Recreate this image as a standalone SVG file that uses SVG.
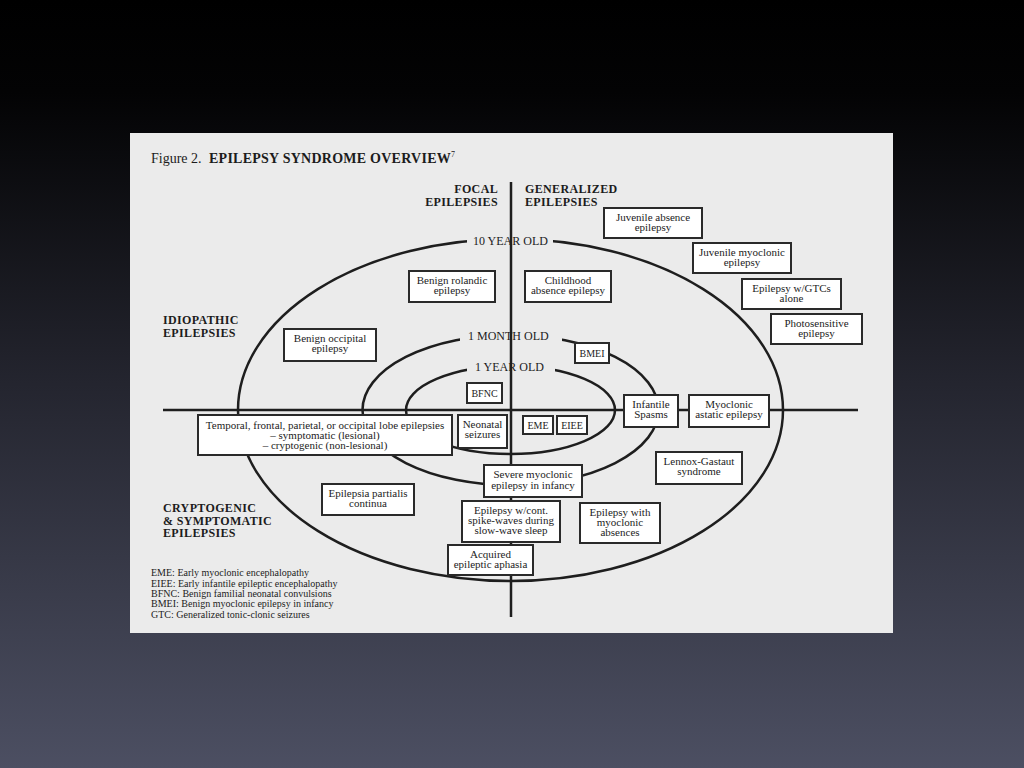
<svg xmlns="http://www.w3.org/2000/svg" width="1024" height="768" viewBox="0 0 1024 768">
<defs>
<linearGradient id="bg" x1="0" y1="0" x2="0" y2="1">
<stop offset="0" stop-color="#000000"/>
<stop offset="0.12" stop-color="#030304"/>
<stop offset="0.5" stop-color="#24252f"/>
<stop offset="1" stop-color="#4c4f62"/>
</linearGradient>
<style>
.t{font-family:"Liberation Serif","Times New Roman",serif;fill:#1c1c1c}
.box{fill:#ffffff;stroke:#2a2a2a;stroke-width:2}
.bt{font-family:"Liberation Serif","Times New Roman",serif;font-size:11px;fill:#1c1c1c;text-anchor:middle}
.sm{font-size:10px}
.hd{font-family:"Liberation Serif","Times New Roman",serif;font-size:12px;font-weight:bold;fill:#1c1c1c;letter-spacing:0.35px}
.ring{fill:none;stroke:#1e1e1e;stroke-width:2.5}
.axis{stroke:#1e1e1e;stroke-width:2.5}
.gap{fill:#ebebeb}
.age{font-family:"Liberation Serif","Times New Roman",serif;font-size:12px;fill:#1c1c1c}
.lg{font-family:"Liberation Serif","Times New Roman",serif;font-size:10px;fill:#1c1c1c}
</style>
</defs>
<rect x="0" y="0" width="1024" height="768" fill="url(#bg)"/>
<rect x="130" y="133" width="763" height="500" fill="#ebebeb"/>

<text class="t" x="151" y="163" font-size="14">Figure 2.</text>
<text class="t" x="209" y="163" font-size="14" font-weight="bold" letter-spacing="0.25">EPILEPSY SYNDROME OVERVIEW<tspan font-size="8" font-weight="normal" dy="-6">7</tspan></text>

<text class="hd" x="498" y="193" text-anchor="end">FOCAL</text>
<text class="hd" x="498" y="206" text-anchor="end">EPILEPSIES</text>
<text class="hd" x="525" y="193">GENERALIZED</text>
<text class="hd" x="525" y="206">EPILEPSIES</text>
<text class="hd" x="163" y="324">IDIOPATHIC</text>
<text class="hd" x="163" y="337">EPILEPSIES</text>
<text class="hd" x="163" y="512">CRYPTOGENIC</text>
<text class="hd" x="163" y="524.5">&amp; SYMPTOMATIC</text>
<text class="hd" x="163" y="537">EPILEPSIES</text>

<g id="connectors">
<ellipse class="ring" cx="510.5" cy="410" rx="272.5" ry="171"/>
<ellipse class="ring" cx="510.5" cy="410" rx="148" ry="75"/>
<ellipse class="ring" cx="510.5" cy="410" rx="104.5" ry="44"/>
<rect class="gap" x="467" y="233" width="86" height="13"/>
<rect class="gap" x="460" y="329" width="102" height="13"/>
<rect class="gap" x="467" y="360" width="88" height="13"/>
<text class="age" x="473" y="245">10 YEAR OLD</text>
<text class="age" x="468" y="340">1 MONTH OLD</text>
<text class="age" x="475" y="371">1 YEAR OLD</text>
<line class="axis" x1="511" y1="182" x2="511" y2="617"/>
<line class="axis" x1="163" y1="410" x2="858" y2="410"/>
</g>

<g id="juvenile-absence"><rect class="box" x="604" y="208" width="98" height="30"/><text class="bt" x="653" y="220.5">Juvenile absence<tspan x="653" dy="10">epilepsy</tspan></text></g>
<g id="juvenile-myoclonic"><rect class="box" x="693" y="243" width="98" height="30"/><text class="bt" x="742" y="255.5">Juvenile myoclonic<tspan x="742" dy="10">epilepsy</tspan></text></g>
<g id="gtc-alone"><rect class="box" x="742" y="279" width="99" height="30"/><text class="bt" x="791.5" y="291.5">Epilepsy w/GTCs<tspan x="791.5" dy="10">alone</tspan></text></g>
<g id="photosensitive"><rect class="box" x="771" y="314" width="91" height="30"/><text class="bt" x="816.5" y="326.5">Photosensitive<tspan x="816.5" dy="10">epilepsy</tspan></text></g>
<g id="benign-rolandic"><rect class="box" x="409" y="271" width="86" height="31"/><text class="bt" x="452" y="283.5">Benign rolandic<tspan x="452" dy="10">epilepsy</tspan></text></g>
<g id="childhood-absence"><rect class="box" x="525" y="271" width="86" height="31"/><text class="bt" x="568" y="283.5">Childhood<tspan x="568" dy="10">absence epilepsy</tspan></text></g>
<g id="benign-occipital"><rect class="box" x="284" y="329" width="92" height="32"/><text class="bt" x="330" y="341.5">Benign occipital<tspan x="330" dy="10">epilepsy</tspan></text></g>
<g id="bmei"><rect class="box" x="575" y="343" width="34" height="20"/><text class="bt sm" x="592" y="357">BMEI</text></g>
<g id="bfnc"><rect class="box" x="467" y="383" width="35" height="20"/><text class="bt sm" x="484.5" y="397">BFNC</text></g>
<g id="focal-lobe"><rect class="box" x="198" y="415" width="254" height="40"/><text class="bt" x="325" y="428.5">Temporal, frontal, parietal, or occipital lobe epilepsies<tspan x="325" dy="10">– symptomatic (lesional)</tspan><tspan x="325" dy="10">– cryptogenic (non-lesional)</tspan></text></g>
<g id="neonatal"><rect class="box" x="458" y="415" width="49" height="33"/><text class="bt" x="482.5" y="428">Neonatal<tspan x="482.5" dy="10">seizures</tspan></text></g>
<g id="eme"><rect class="box" x="523" y="416" width="30" height="18"/><text class="bt sm" x="538" y="429">EME</text></g>
<g id="eiee"><rect class="box" x="557" y="416" width="30" height="18"/><text class="bt sm" x="572" y="429">EIEE</text></g>
<g id="infantile-spasms"><rect class="box" x="624" y="395" width="54" height="32"/><text class="bt" x="651" y="408">Infantile<tspan x="651" dy="10">Spasms</tspan></text></g>
<g id="myoclonic-astatic"><rect class="box" x="689" y="395" width="80" height="32"/><text class="bt" x="729" y="408">Myoclonic<tspan x="729" dy="10">astatic epilepsy</tspan></text></g>
<g id="lennox-gastaut"><rect class="box" x="656" y="452" width="86" height="32"/><text class="bt" x="699" y="465">Lennox-Gastaut<tspan x="699" dy="10">syndrome</tspan></text></g>
<g id="severe-myoclonic"><rect class="box" x="484" y="465" width="98" height="32"/><text class="bt" x="533" y="478">Severe myoclonic<tspan x="533" dy="10.5">epilepsy in infancy</tspan></text></g>
<g id="epilepsia-partialis"><rect class="box" x="322" y="484" width="92" height="31"/><text class="bt" x="368" y="496.5">Epilepsia partialis<tspan x="368" dy="10">continua</tspan></text></g>
<g id="cswss"><rect class="box" x="462" y="501" width="98" height="41"/><text class="bt" x="511" y="514">Epilepsy w/cont.<tspan x="511" dy="10">spike-waves during</tspan><tspan x="511" dy="10">slow-wave sleep</tspan></text></g>
<g id="myoclonic-absences"><rect class="box" x="580" y="503" width="80" height="40"/><text class="bt" x="620" y="515.5">Epilepsy with<tspan x="620" dy="10">myoclonic</tspan><tspan x="620" dy="10">absences</tspan></text></g>
<g id="acquired-aphasia"><rect class="box" x="448" y="545" width="85" height="30"/><text class="bt" x="490.5" y="557.5">Acquired<tspan x="490.5" dy="10">epileptic aphasia</tspan></text></g>

<g id="legend">
<text class="lg" x="151" y="576">EME: Early myoclonic encephalopathy</text>
<text class="lg" x="151" y="586.5">EIEE: Early infantile epileptic encephalopathy</text>
<text class="lg" x="151" y="597">BFNC: Benign familial neonatal convulsions</text>
<text class="lg" x="151" y="607.3">BMEI: Benign myoclonic epilepsy in infancy</text>
<text class="lg" x="151" y="617.7">GTC: Generalized tonic-clonic seizures</text>
</g>
</svg>
